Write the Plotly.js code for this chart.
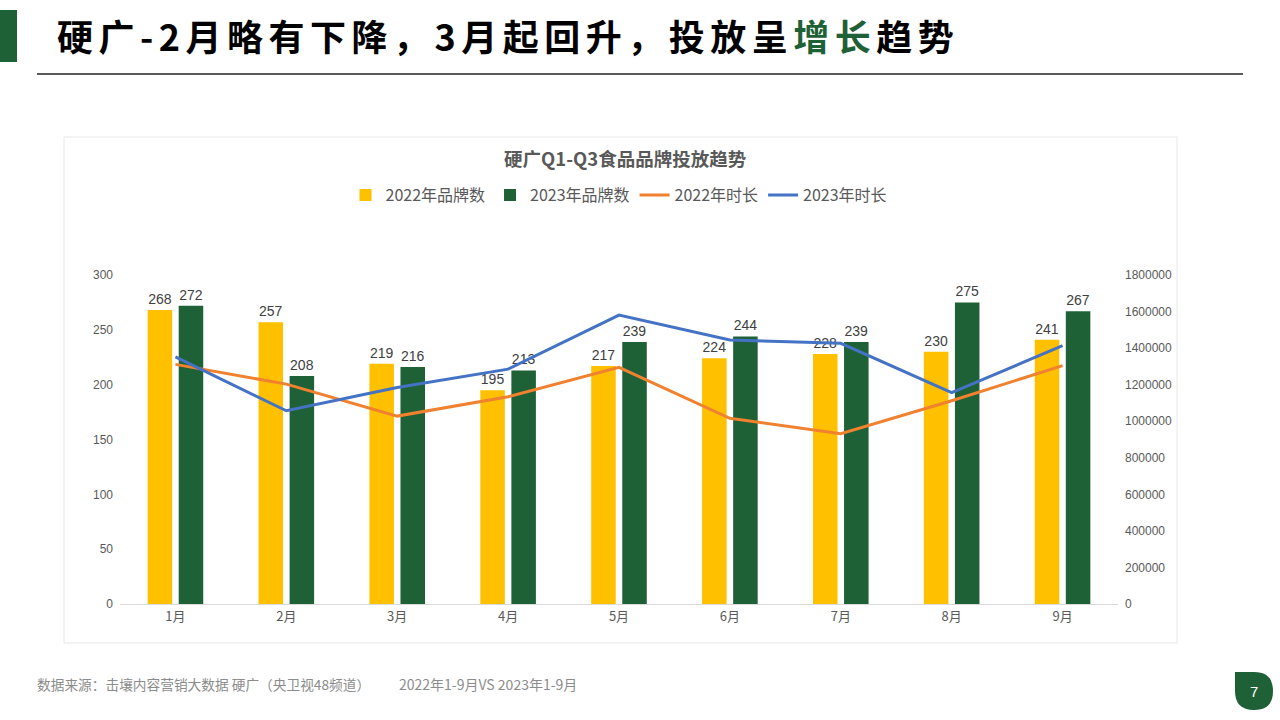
<!DOCTYPE html>
<html><head><meta charset="utf-8">
<script src="https://cdn.plot.ly/plotly-3.0.1.min.js"></script>
<style>html,body{margin:0;padding:0;background:#fff;} #chart{width:1280px;height:720px;}</style>
</head><body><div id="chart"></div>
<script>
const months = ['1月','2月','3月','4月','5月','6月','7月','8月','9月'];
const brands2022 = [268,257,219,195,217,224,228,230,241];
const brands2023 = [272,208,216,213,239,244,239,275,267];
const duration2022 = [1311000,1203000,1028000,1134000,1295000,1016000,932000,1112000,1304000];
const duration2023 = [1352000,1057000,1185000,1285000,1581000,1444000,1426000,1156000,1413000];
const seriesNames = ['2022年品牌数','2023年品牌数','2022年时长','2023年时长'];
const pageTitle = '硬广-2月略有下降，3月起回升，投放呈<span style="color:#1F6136">增长</span>趋势';
const chartTitle = '硬广Q1-Q3食品品牌投放趋势';
const sourceText = '数据来源：击壤内容营销大数据 硬广（央卫视48频道）';
const periodText = '2022年1-9月VS 2023年1-9月';
const pageNum = '7';

const L=120, R=1118, T=275, B=604;
const px = x => (x-L)/(R-L);
const py = y => (B-y)/(B-T);
const FONT = '"Liberation Sans", "Noto Sans CJK SC", sans-serif';
const CJK = '"Noto Sans CJK SC", sans-serif';
const GREEN = '#1F6136';

const traces = [
  {type:'bar', name:seriesNames[0], x:months, y:brands2022, marker:{color:'#FFC000'},
   text:brands2022.map(String), textposition:'outside', cliponaxis:false,
   textfont:{size:14,color:'#404040',family:FONT}},
  {type:'bar', name:seriesNames[1], x:months, y:brands2023, marker:{color:'#1F6136'},
   text:brands2023.map(String), textposition:'outside', cliponaxis:false,
   textfont:{size:14,color:'#404040',family:FONT}},
  {type:'scatter', mode:'lines', name:seriesNames[2], x:months, y:duration2022, yaxis:'y2',
   line:{color:'#F0812F',width:3}},
  {type:'scatter', mode:'lines', name:seriesNames[3], x:months, y:duration2023, yaxis:'y2',
   line:{color:'#4472C4',width:3}}
];

const tear = `M ${px(1235)} ${py(672)} L ${px(1254)} ${py(672)} Q ${px(1273)} ${py(672)} ${px(1273)} ${py(691)} Q ${px(1273)} ${py(710)} ${px(1254)} ${py(710)} Q ${px(1235)} ${py(710)} ${px(1235)} ${py(691)} Z`;

const layout = {
  width:1280, height:720,
  margin:{l:L, r:1280-R, t:T, b:720-B, pad:0},
  paper_bgcolor:'#fff', plot_bgcolor:'#fff',
  font:{family:FONT, color:'#595959', size:12},
  barmode:'group', bargap:0.44, bargroupgap:0.21,
  showlegend:true,
  legend:{orientation:'h', x:0.5, xanchor:'center', y:py(195), yanchor:'middle',
    font:{size:16, color:'#595959', family:CJK}, itemwidth:30, tracegroupgap:0},
  xaxis:{type:'category', showline:true, linecolor:'#D9D9D9', linewidth:1, ticks:'',
    showgrid:false, zeroline:false, tickfont:{size:13,color:'#595959',family:CJK}, fixedrange:true},
  yaxis:{range:[0,300], dtick:50, showgrid:false, zeroline:false, showline:false, ticks:'',
    tickfont:{size:12,color:'#595959'}, ticklabelstandoff:6},
  yaxis2:{overlaying:'y', side:'right', range:[0,1800000], dtick:200000, tickformat:'d',
    showgrid:false, zeroline:false, showline:false, ticks:'', tickfont:{size:12,color:'#595959'}, ticklabelstandoff:6},
  shapes:[
    {type:'rect', xref:'paper', yref:'paper', x0:px(64), x1:px(1177), y0:py(137), y1:py(643),
      line:{color:'#E8E8E8', width:1}, fillcolor:'rgba(0,0,0,0)', layer:'below'},
    {type:'rect', xref:'paper', yref:'paper', x0:px(0), x1:px(17), y0:py(10), y1:py(62),
      line:{width:0}, fillcolor:GREEN},
    {type:'line', xref:'paper', yref:'paper', x0:px(37), x1:px(1243), y0:py(74), y1:py(74),
      line:{color:'#222', width:1.5}},
    {type:'path', xref:'paper', yref:'paper', path:tear, line:{width:0}, fillcolor:GREEN}
  ],
  annotations:[
    {xref:'paper', yref:'paper', x:px(55), y:py(35), xanchor:'left', yanchor:'middle', showarrow:false,
      text:'<b><span style="letter-spacing:5.5px">'+pageTitle+'</span></b>', font:{size:36, color:'#000', family:CJK}},
    {xref:'paper', yref:'paper', x:px(625), y:py(158), xanchor:'center', yanchor:'middle', showarrow:false,
      text:'<b>'+chartTitle+'</b>', font:{size:18.5, color:'#595959', family:CJK}},
    {xref:'paper', yref:'paper', x:px(35), y:py(684), xanchor:'left', yanchor:'middle', showarrow:false,
      text:sourceText, font:{size:13.7, color:'#8C8C8C', family:CJK}},
    {xref:'paper', yref:'paper', x:px(397), y:py(684), xanchor:'left', yanchor:'middle', showarrow:false,
      text:periodText, font:{size:14, color:'#8C8C8C', family:CJK}},
    {xref:'paper', yref:'paper', x:px(1254), y:py(691), xanchor:'center', yanchor:'middle', showarrow:false,
      text:pageNum, font:{size:15, color:'#fff', family:FONT}}
  ]
};
Plotly.newPlot('chart', traces, layout, {displayModeBar:false, staticPlot:true});
</script></body></html>
